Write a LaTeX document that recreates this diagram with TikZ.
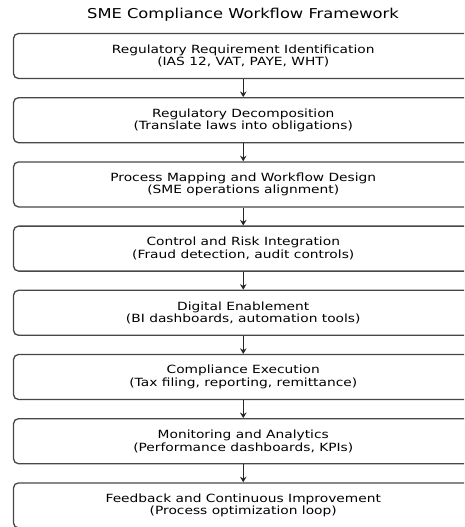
\documentclass[tikz,border=0pt]{standalone}
\usepackage{fontspec}
\setmainfont[FakeStretch=1.22]{DejaVu Sans}
\newfontfamily\titlefont[FakeStretch=1.2]{DejaVu Sans}
\usetikzlibrary{arrows.meta}
\tikzset{
  stage/.style={draw=black!72, line width=1.3pt, rounded corners=5pt, fill=white,
    minimum width=459.5pt, minimum height=45pt, align=center, inner sep=0pt,
    font=\fontsize{11.3}{12.6}\selectfont},
  flow/.style={draw=black!85, line width=1.1pt, -{Stealth[length=5.5pt,width=6.5pt]}},
  title/.style={font=\titlefont\fontsize{13.6}{15}\selectfont}
}
\begin{document}
\begin{tikzpicture}[x=1pt,y=-1pt]
\useasboundingbox (0,0) rectangle (464,527);
\clip (0,0) rectangle (464,527);
\node[title] (t) at (243,15) {SME Compliance Workflow Framework};
\node[stage] (b1) at (243.25,56.0) {Regulatory Requirement Identification\\(IAS 12, VAT, PAYE, WHT)};
\node[stage] (b2) at (243.25,120.2) {Regulatory Decomposition\\(Translate laws into obligations)};
\node[stage] (b3) at (243.25,184.4) {Process Mapping and Workflow Design\\(SME operations alignment)};
\node[stage] (b4) at (243.25,248.6) {Control and Risk Integration\\(Fraud detection, audit controls)};
\node[stage] (b5) at (243.25,312.8) {Digital Enablement\\(BI dashboards, automation tools)};
\node[stage] (b6) at (243.25,377.0) {Compliance Execution\\(Tax filing, reporting, remittance)};
\node[stage] (b7) at (243.25,441.2) {Monitoring and Analytics\\(Performance dashboards, KPIs)};
\node[stage] (b8) at (243.25,505.4) {Feedback and Continuous Improvement\\(Process optimization loop)};
\foreach \a/\b in {b1/b2,b2/b3,b3/b4,b4/b5,b5/b6,b6/b7,b7/b8}
  \draw[flow] (\a.south) -- (\b.north);
\end{tikzpicture}
\end{document}
